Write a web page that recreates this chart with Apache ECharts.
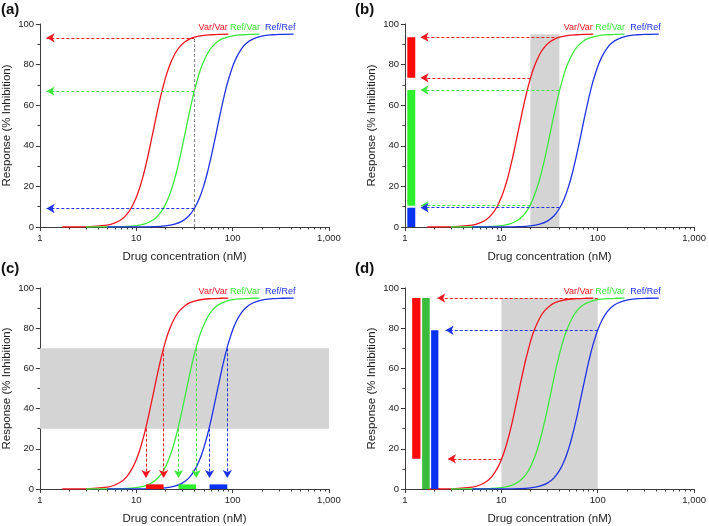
<!DOCTYPE html>
<html>
<head>
<meta charset="utf-8">
<script src="https://cdn.jsdelivr.net/npm/echarts@6/dist/echarts.min.js"></script>
<style>
html,body{margin:0;padding:0;background:#fff;}
#chart{width:709px;height:526px;}
</style>
</head>
<body>
<div id="chart"></div>
<script>
// ---------- data ----------
const xTickValues = [1, 10, 100, 1000];
const xTickLabels = ['1', '10', '100', '1,000'];
const xMinorTickValues = [2,3,4,5,6,7,8,9,20,30,40,50,60,70,80,90,200,300,400,500,600,700,800,900];
const panelLetters = ['(a)', '(b)', '(c)', '(d)'];
const curveNames = ['Var/Var', 'Ref/Var', 'Ref/Ref'];

const concVarVar = [1.7,3,5,6,7,8,9,10,11,12,13,14,15,16,17,18,20,22,25,28,32,36,40,50,60,75,90];
const respVarVar = [0,0.1,0.9,2.0,3.7,6.3,10.0,14.6,20.3,26.7,33.6,40.7,47.5,53.9,59.7,64.8,73.2,79.2,85.1,88.6,91.2,92.7,93.5,94.4,94.7,94.9,95.0];

const concRefVar = [3,5,8,10,12,14,16,18,20,22,24,26,28,30,32,34,36,38,40,44,48,55,62,70,80,100,130,160,190];
const respRefVar = [0,0.04,0.26,0.67,1.4,2.7,4.6,7.3,10.9,15.5,20.8,26.8,33.1,39.6,46.0,52.0,57.6,62.6,67.0,74.2,79.5,85.6,89.1,91.4,92.9,94.2,94.7,94.9,95.0];

const concRefRef = [5,10,15,20,25,30,35,40,45,50,55,60,65,70,75,80,85,90,100,110,125,140,160,200,260,330,430];
const respRefRef = [0,0.03,0.16,0.54,1.4,2.9,5.4,9.1,14.0,20.2,27.3,34.9,42.6,50.0,56.7,62.7,67.9,72.3,79.1,83.7,88.1,90.6,92.4,94.0,94.7,94.9,95.0];

const maxResponse = 95;

// (a) responses at a single concentration
const aConc = 40;
const aResp = [93.2, 66.9, 9.1];

// (b) concentration window 20-40 nM and resulting response ranges
const bWindow = [20, 40];
const bRangeVarVar = [73.5, 93.5];
const bRangeRefVar = [10.5, 67.5];
const bRangeRefRef = [0, 9.5];

// (c) target response band 30-70 % and resulting concentration ranges
const cBand = [30, 70];
const cRangeVarVar = [12.6, 19.2];
const cRangeRefVar = [27.4, 41.8];
const cRangeRefRef = [57.5, 88];

// (d) concentration window 10-100 nM and resulting response ranges
const dWindow = [10, 100];
const dRangeVarVar = [15, 95];
const dRangeRefVar = [0, 95];
const dRangeRefRef = [0, 79];

// ---------- styles ----------
const FONT = 'Liberation Sans, Arial, sans-serif';
const AX = '#3c3c3c';
const TXT = '#222';
const curveColors = ['#f0141e', '#3ce83c', '#1e32e6'];
const barColorsB = ['#ff0a0a', '#2ef02e', '#0a32f0'];
const barColorsD = ['#ff0a0a', '#3cbc3c', '#0a32f0'];
const bandColor = '#d4d4d4';

const grids = [
  {left: 40, top: 24, width: 289, height: 203},
  {left: 405, top: 24, width: 290, height: 203},
  {left: 40, top: 288, width: 289, height: 202},
  {left: 405, top: 288, width: 290, height: 202}
];

const xAxes = [], yAxes = [], series = [], titles = [];
const titlePos = [[1, 2], [355, 2], [1, 261], [355, 261]];

grids.forEach((g, i) => {
  titles.push({text: panelLetters[i], left: titlePos[i][0], top: titlePos[i][1], padding: 0,
    textStyle: {fontSize: 15, fontWeight: 'bold', color: '#111', fontFamily: FONT}});
  xAxes.push({
    type: 'log', logBase: 10, gridIndex: i, min: 1, max: 1000, position: 'bottom',
    name: 'Drug concentration (nM)', nameLocation: 'middle', nameGap: 24,
    nameTextStyle: {fontSize: 11.5, color: TXT, fontFamily: FONT},
    axisLine: {show: true, lineStyle: {color: AX, width: 1}},
    axisTick: {show: true, length: 4, lineStyle: {color: AX}},
    minorTick: {show: false},
    axisLabel: {fontSize: 9.5, color: TXT, fontFamily: FONT, margin: 6,
      formatter: v => { const k = Math.round(Math.log10(v)); return xTickLabels[xTickValues.indexOf(Math.pow(10, k))] || ''; }},
    splitLine: {show: false}, minorSplitLine: {show: false}
  });
  yAxes.push({
    type: 'value', gridIndex: i, min: 0, max: 100, interval: 20,
    name: 'Response (% Inhibition)', nameLocation: 'middle', nameGap: 27,
    nameTextStyle: {fontSize: 11.5, color: TXT, fontFamily: FONT},
    axisLine: {show: true, lineStyle: {color: AX, width: 1}},
    axisTick: {show: true, length: 4, lineStyle: {color: AX}},
    minorTick: {show: true, splitNumber: 2, length: 2.5, lineStyle: {color: AX}},
    axisLabel: {fontSize: 9.5, color: TXT, fontFamily: FONT, margin: 6},
    splitLine: {show: false}, minorSplitLine: {show: false}
  });
});

const concs = [concVarVar, concRefVar, concRefRef];
const resps = [respVarVar, respRefVar, respRefRef];
const labelRight = [90, 194, 455];

function dashed(color) { return {color: color, type: [3, 2], width: 1}; }
function arrowLine(color, pairs) {
  return {
    silent: true, z: 5, symbol: ['none', 'arrow'], symbolSize: [7, 8],
    label: {show: false}, lineStyle: dashed(color), emphasis: {disabled: true},
    data: pairs.map(p => [{coord: p[0]}, {coord: p[1]}])
  };
}
function bars(colors, ranges) {
  return ranges.map((r, k) => [{coord: r[0], itemStyle: {color: colors[k], opacity: 1}}, {coord: r[1]}]);
}

grids.forEach((g, i) => {
  // minor log ticks on the x axis, placed through the axis scale
  series.push({
    type: 'custom', xAxisIndex: i, yAxisIndex: i, silent: true, clip: false, z: 0,
    data: xMinorTickValues.map(v => [v, 0]),
    renderItem: (params, api) => {
      const p = api.coord([api.value(0), api.value(1)]);
      const x = Math.round(p[0]) + 0.5, y = Math.round(p[1]);
      return {type: 'line', shape: {x1: x, y1: y, x2: x, y2: y + 2.5},
        style: {stroke: AX, lineWidth: 1}};
    }
  });

  // background band series
  const band = {type: 'line', xAxisIndex: i, yAxisIndex: i, data: [], silent: true, z: 1,
    markArea: {silent: true, z: 1, itemStyle: {color: bandColor}, emphasis: {disabled: true}, data: []}};
  if (i === 1) band.markArea.data = [[{coord: [bWindow[0], 0]}, {coord: [bWindow[1], maxResponse]}]];
  if (i === 2) band.markArea.data = [[{coord: [1, cBand[0]]}, {coord: [1000, cBand[1]]}]];
  if (i === 3) band.markArea.data = [[{coord: [dWindow[0], 0]}, {coord: [dWindow[1], maxResponse]}]];
  if (i === 0) band.markLine = {silent: true, symbol: ['none', 'none'], label: {show: false},
    lineStyle: dashed('#8a8a8a'), data: [[{coord: [aConc, 0]}, {coord: [aConc, aResp[0]]}]]};
  series.push(band);

  // colored bars
  let barData = [];
  if (i === 1) barData = bars(barColorsB, [
    [[1.057, bRangeVarVar[0]], [1.278, bRangeVarVar[1]]],
    [[1.057, bRangeRefVar[0]], [1.278, bRangeRefVar[1]]],
    [[1.057, bRangeRefRef[0]], [1.278, bRangeRefRef[1]]]]);
  if (i === 2) barData = bars(barColorsB, [
    [[cRangeVarVar[0], 0], [cRangeVarVar[1], 2.3]],
    [[cRangeRefVar[0], 0], [cRangeRefVar[1], 2.3]],
    [[cRangeRefRef[0], 0], [cRangeRefRef[1], 2.3]]]);
  if (i === 3) barData = bars(barColorsD, [
    [[1.187, dRangeVarVar[0]], [1.447, dRangeVarVar[1]]],
    [[1.506, dRangeRefVar[0]], [1.806, dRangeRefVar[1]]],
    [[1.867, dRangeRefRef[0]], [2.22, dRangeRefRef[1]]]]);
  series.push({type: 'line', xAxisIndex: i, yAxisIndex: i, data: [], silent: true, z: 3,
    markArea: {silent: true, z: 3, emphasis: {disabled: true}, data: barData}});

  // curves
  for (let k = 0; k < 3; k++) {
    series.push({
      type: 'line', name: curveNames[k], xAxisIndex: i, yAxisIndex: i, z: 2,
      data: concs[k].map((c, j) => [c, resps[k][j]]),
      smooth: 0.4, showSymbol: false, symbol: 'none', silent: true,
      lineStyle: {color: curveColors[k], width: 1.3},
      markPoint: {silent: true, symbol: 'circle', symbolSize: 1, itemStyle: {color: 'rgba(0,0,0,0)'},
        data: [{coord: [labelRight[k], 98.4],
          label: {show: true, position: 'left', distance: 0, formatter: curveNames[k],
            color: curveColors[k], fontSize: 9, fontFamily: FONT}}]}
    });
  }

  // arrows
  const arrows = [[], [], []];
  if (i === 0) {
    for (let k = 0; k < 3; k++) arrows[k].push([[aConc, aResp[k]], [1.17, aResp[k]]]);
  }
  if (i === 1) {
    arrows[0].push([[bWindow[1], bRangeVarVar[1]], [1.45, bRangeVarVar[1]]]);
    arrows[0].push([[bWindow[0], bRangeVarVar[0]], [1.45, bRangeVarVar[0]]]);
    arrows[1].push([[bWindow[1], bRangeRefVar[1]], [1.45, bRangeRefVar[1]]]);
    arrows[1].push([[bWindow[0], bRangeRefVar[0]], [1.45, bRangeRefVar[0]]]);
    arrows[2].push([[bWindow[1], bRangeRefRef[1]], [1.45, bRangeRefRef[1]]]);
  }
  if (i === 2) {
    const rs = [cRangeVarVar, cRangeRefVar, cRangeRefRef];
    for (let k = 0; k < 3; k++) {
      arrows[k].push([[rs[k][0], cBand[0]], [rs[k][0], 5.5]]);
      arrows[k].push([[rs[k][1], cBand[1]], [rs[k][1], 5.5]]);
    }
  }
  if (i === 3) {
    arrows[0].push([[dWindow[1], dRangeVarVar[1]], [2.16, dRangeVarVar[1]]]);
    arrows[0].push([[dWindow[0], dRangeVarVar[0]], [2.79, dRangeVarVar[0]]]);
    arrows[2].push([[dWindow[1], dRangeRefRef[1]], [2.64, dRangeRefRef[1]]]);
  }
  for (let k = 0; k < 3; k++) {
    if (!arrows[k].length) continue;
    series.push({type: 'line', xAxisIndex: i, yAxisIndex: i, data: [], silent: true, z: 5,
      markLine: arrowLine(curveColors[k], arrows[k])});
  }
});

const chart = echarts.init(document.getElementById('chart'), null, {renderer: 'canvas'});
chart.setOption({
  backgroundColor: '#fff',
  animation: false,
  title: titles,
  grid: grids,
  xAxis: xAxes,
  yAxis: yAxes,
  series: series
});
</script>
</body>
</html>
